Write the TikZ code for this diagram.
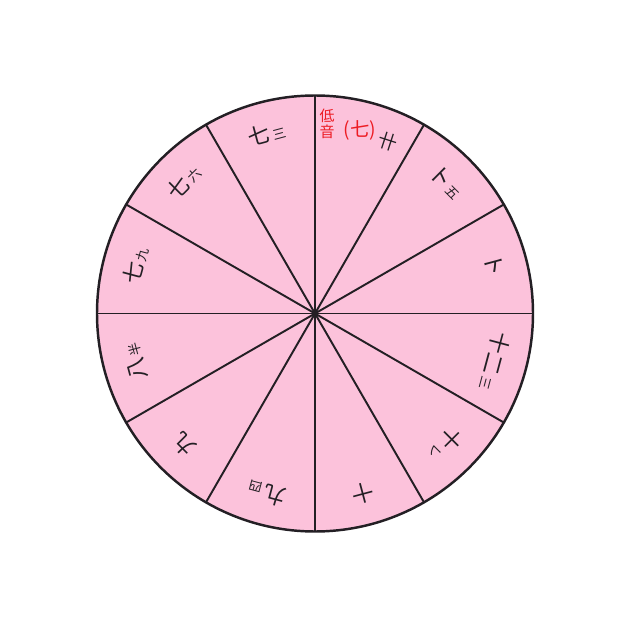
\documentclass[tikz,border=0pt]{standalone}
\usepackage{fontspec}
\newfontfamily\jpfont{Noto Sans CJK JP}
\usetikzlibrary{positioning}
\definecolor{wheelpink}{RGB}{252,194,219}
\definecolor{wheelline}{RGB}{35,31,36}
\definecolor{lowred}{RGB}{237,28,36}
\newcommand{\sm}[1]{\hspace{1.5pt}{\fontsize{7.5}{7.5}\selectfont #1}}

\begin{document}
\begin{tikzpicture}[
  rim/.style={draw=wheelline, line width=1.4pt, fill=wheelpink},
  spoke/.style={draw=wheelline, line width=1.1pt},
  key/.style={font=\jpfont\fontsize{12.5}{12.5}\selectfont, text=wheelline, inner sep=0pt},
  lowkey/.style={font=\jpfont\fontsize{8.5}{9}\selectfont, text=lowred, inner sep=0pt, align=center},
]
  \useasboundingbox (-6.30,-6.29) rectangle (6.26,6.27);

  % wheel
  \coordinate (hub) at (0,0);
  \path[rim] (hub) circle (4.36);
  \foreach \a in {0,30,...,330}
    \draw[spoke] (hub) -- (\a:4.36);

  % sector labels
  \foreach \a/\txt in {15/ト, 45/ト\sm{五}, 105/七\sm{三}, 135/七\sm{六},
                       165/七\sm{九}, 195/八\sm{半}, 225/九, 255/九\sm{四},
                       285/十, 315/十\sm{レ}, 345/十二\sm{三}}
    \node[key, rotate=\a-90] (k\a) at (\a:3.72) {\txt};

  % low register sector
  \node[lowkey] (low) at (0.24,3.79) {低\\音};
  \node[lowkey, font=\jpfont\fontsize{11}{11}\selectfont] (lowseven) at (0.9,3.66) {(七)};
  \node[key, rotate=-18, font=\jpfont\fontsize{11}{11}\selectfont] (k75) at (1.46,3.44) {卄};
\end{tikzpicture}
\end{document}
